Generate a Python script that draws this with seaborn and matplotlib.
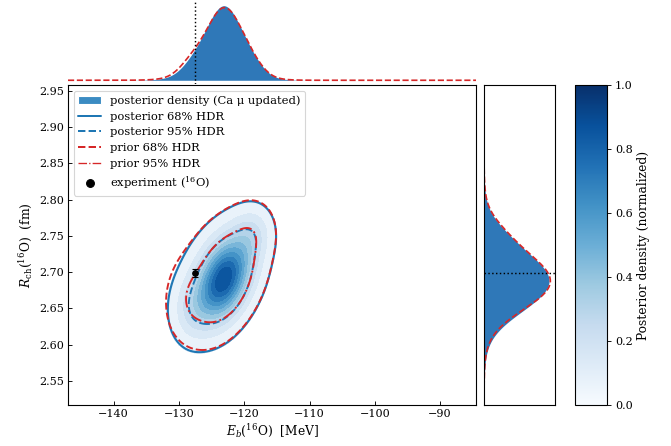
import numpy as np
import pandas as pd
import matplotlib
matplotlib.use("Agg")
import matplotlib.pyplot as plt
import seaborn as sns
from matplotlib.lines import Line2D
from matplotlib.patches import Patch
from matplotlib.colors import Normalize
from matplotlib.cm import ScalarMappable

# ---- data: Gaussian-mixture description of the densities ----
post_w = [0.68, 0.22, 0.05, 0.05]
post_mx = [-123.1, -123.8, -118.8, -128.0]
post_my = [2.690, 2.694, 2.752, 2.650]
post_sx = [2.7, 4.2, 1.8, 1.8]
post_sy = [0.037, 0.050, 0.022, 0.026]
post_rho = [0.40, 0.35, 0.10, 0.10]

prior_w = [0.66, 0.22, 0.05, 0.07]
prior_mx = [-123.0, -123.9, -118.8, -128.2]
prior_my = [2.691, 2.696, 2.754, 2.664]
prior_sx = [2.7, 4.2, 1.8, 1.8]
prior_sy = [0.037, 0.050, 0.022, 0.027]
prior_rho = [0.40, 0.35, 0.10, 0.10]

exp_E = -127.62
exp_R = 2.699
exp_Rerr = 0.005

xlim = (-147.0, -84.5)
ylim = (2.517, 2.958)
xticks = [-140, -130, -120, -110, -100, -90]
yticks = [2.55, 2.60, 2.65, 2.70, 2.75, 2.80, 2.85, 2.90, 2.95]
cbar_ticks = [0.0, 0.2, 0.4, 0.6, 0.8, 1.0]

sns.set_style("white")
plt.rcParams['font.family'] = ['DejaVu Serif']
plt.rcParams['mathtext.fontset'] = 'dejavuserif'
plt.rcParams['font.size'] = 10
for k in ['text.color', 'axes.labelcolor', 'xtick.color', 'ytick.color', 'axes.edgecolor']:
    plt.rcParams[k] = 'black'

xg = np.linspace(xlim[0], xlim[1], 500)
yg = np.linspace(ylim[0], ylim[1], 500)
X, Y = np.meshgrid(xg, yg)


def mixture(w, mx, my, sx, sy, rho):
    P = np.zeros_like(X)
    for wi, a, b, s1, s2, r in zip(w, mx, my, sx, sy, rho):
        u = (X - a) / s1
        v = (Y - b) / s2
        q = (u * u - 2 * r * u * v + v * v) / (1 - r * r)
        P += wi * np.exp(-0.5 * q) / (2 * np.pi * s1 * s2 * np.sqrt(1 - r * r))
    return P


def hdr_levels(P, probs):
    f = np.sort(P.ravel())[::-1]
    c = np.cumsum(f) / f.sum()
    return [f[np.searchsorted(c, p)] for p in probs]


Pp = mixture(post_w, post_mx, post_my, post_sx, post_sy, post_rho)
Pr = mixture(prior_w, prior_mx, prior_my, prior_sx, prior_sy, prior_rho)
Dp = Pp / Pp.max()
Dr = Pr / Pr.max()
p95, p68 = hdr_levels(Dp, [0.95, 0.68])
r95, r68 = hdr_levels(Dr, [0.95, 0.68])

dx = xg[1] - xg[0]
dy = yg[1] - yg[0]
px_post = Pp.sum(axis=0) * dy
px_prior = Pr.sum(axis=0) * dy
py_post = Pp.sum(axis=1) * dx
py_prior = Pr.sum(axis=1) * dx

W, H = 671, 446
fig = plt.figure(figsize=(W / 80, H / 80), dpi=80)


def rect(l, t, r, b):
    return [l / W, 1 - b / H, (r - l) / W, (b - t) / H]


ax = fig.add_axes(rect(68, 85, 476, 405))
axt = fig.add_axes(rect(68, 2, 476, 84), sharex=ax)
axr = fig.add_axes(rect(484, 85, 555, 405), sharey=ax)
cax = fig.add_axes(rect(575, 85, 607, 405))

blue = '#1f77b4'
red = '#d62728'
fillc = '#2f78b8'

# main
levels = np.linspace(p95 * 0.9, 1.0, 12)
ax.contourf(X, Y, Dp, levels=levels, cmap='Blues', vmin=0, vmax=1.12)
ax.contour(X, Y, Dp, levels=[p95], colors=[blue], linestyles=['-'], linewidths=1.9)
ax.contour(X, Y, Dp, levels=[p68], colors=[blue], linestyles=['--'], linewidths=1.7)
ax.contour(X, Y, Dr, levels=[r95], colors=[red], linestyles=['--'], linewidths=1.7)
ax.contour(X, Y, Dr, levels=[r68], colors=[red], linestyles=['-.'], linewidths=1.7)
ax.errorbar([exp_E], [exp_R], yerr=[exp_Rerr], fmt='o', color='k', ms=5, capsize=2.5, elinewidth=1.2, zorder=5)
ax.set_xlim(*xlim)
ax.set_ylim(*ylim)
ax.set_xticks(xticks)
ax.set_yticks(yticks)
ax.set_yticklabels([f"{t:.2f}" for t in yticks])
ax.tick_params(direction='in', length=4, left=True, bottom=True, top=False, right=False)
ax.set_xlabel(r'$E_b(^{16}\mathrm{O})$  [MeV]', fontsize=11)
ax.set_ylabel(r'$R_{\rm ch}(^{16}\mathrm{O})$  (fm)', fontsize=11)
for s in ax.spines.values():
    s.set_color('k')
    s.set_linewidth(1.0)

handles = [
    Patch(facecolor=plt.cm.Blues(0.65), label='posterior density (Ca μ updated)'),
    Line2D([], [], color=blue, ls='-', lw=1.8, label='posterior 68% HDR'),
    Line2D([], [], color=blue, ls='--', lw=1.8, label='posterior 95% HDR'),
    Line2D([], [], color=red, ls='--', lw=1.8, label='prior 68% HDR'),
    Line2D([], [], color=red, ls='-.', lw=1.2, label='prior 95% HDR'),
    Line2D([], [], color='k', marker='o', ls='none', ms=7, label=r'experiment ($^{16}$O)'),
]
ax.legend(handles=handles, loc='upper left', fontsize=10.3, frameon=True, framealpha=0.8)

# top marginal
axt.fill_between(xg, 0, px_post, color=fillc, lw=0)
sns.lineplot(x=xg, y=px_prior, ax=axt, color=red, linestyle='--', lw=1.5)
axt.axvline(exp_E, color='k', ls=':', lw=1.3)
axt.axis('off')

# right marginal
axr.fill_betweenx(yg, 0, py_post, color=fillc, lw=0)
sns.lineplot(x=py_prior, y=yg, ax=axr, color=red, linestyle='--', lw=1.5, orient='y')
axr.axhline(exp_R, color='k', ls=':', lw=1.3)
axr.set_xlim(0, max(py_post.max(), py_prior.max()) * 1.07)
axr.tick_params(left=False, bottom=False, labelleft=False, labelbottom=False)
axr.set_xlabel('')
axr.set_ylabel('')
for s in axr.spines.values():
    s.set_color('k')
    s.set_linewidth(1.0)

# colorbar
cb = fig.colorbar(ScalarMappable(norm=Normalize(0, 1), cmap='Blues'), cax=cax)
cb.set_ticks(cbar_ticks)
cb.set_label('Posterior density (normalized)', fontsize=11)
cb.outline.set_linewidth(1.0)

fig.savefig('out.png', dpi=80)
